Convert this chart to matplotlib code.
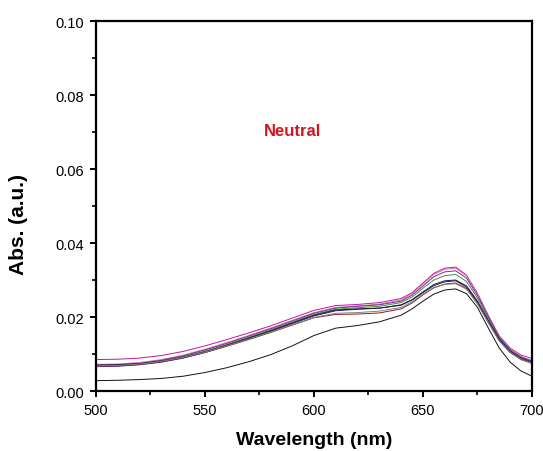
import matplotlib.pyplot as plt
from matplotlib.ticker import MultipleLocator

plt.rcParams['font.family'] = ['Liberation Sans', 'DejaVu Sans']

wl = [500, 510, 520, 530, 540, 550, 560, 570, 580, 590, 600, 610, 620, 630, 640,
      645, 650, 655, 660, 665, 670, 675, 680, 685, 690, 695, 700]

abs_a = [.0085, .0086, .0089, .0096, .0107, .0122, .0139, .0157, .0176, .0197, .0218, .0231, .0234, .0239, .0250,
         .0266, .0292, .0318, .0332, .0335, .0313, .0264, .0204, .0149, .0116, .0097, .0088]
abs_b = [.0072, .0073, .0077, .0085, .0097, .0113, .0131, .0150, .0170, .0191, .0212, .0226, .0230, .0235, .0246,
         .0263, .0289, .0315, .0329, .0332, .0311, .0262, .0202, .0147, .0112, .0093, .0082]
abs_c = [.0070, .0071, .0075, .0083, .0095, .0111, .0129, .0148, .0168, .0189, .0210, .0224, .0229, .0233, .0243,
         .0259, .0284, .0309, .0322, .0325, .0305, .0258, .0200, .0145, .0111, .0092, .0081]
abs_d = [.0068, .0069, .0073, .0081, .0093, .0108, .0126, .0145, .0165, .0186, .0207, .0221, .0225, .0229, .0239,
         .0254, .0278, .0300, .0312, .0315, .0296, .0251, .0196, .0143, .0110, .0091, .0080]
abs_e = [.0066, .0067, .0071, .0078, .0089, .0104, .0122, .0141, .0161, .0182, .0203, .0217, .0221, .0224, .0233,
         .0247, .0268, .0288, .0298, .0300, .0284, .0243, .0191, .0141, .0108, .0089, .0079]
abs_f = [.0070, .0071, .0074, .0081, .0092, .0106, .0124, .0143, .0163, .0184, .0205, .0219, .0222, .0224, .0232,
         .0246, .0266, .0285, .0295, .0298, .0281, .0240, .0187, .0136, .0104, .0085, .0075]
abs_g = [.0067, .0068, .0072, .0079, .0090, .0104, .0121, .0139, .0158, .0178, .0198, .0207, .0208, .0211, .0222,
         .0238, .0260, .0279, .0289, .0292, .0277, .0238, .0186, .0137, .0106, .0087, .0077]
abs_h = [.0068, .0069, .0073, .0080, .0091, .0105, .0122, .0140, .0159, .0179, .0199, .0210, .0212, .0216, .0226,
         .0241, .0262, .0280, .0288, .0290, .0275, .0235, .0184, .0135, .0104, .0085, .0075]
abs_i = [.0028, .0029, .0031, .0034, .0040, .0050, .0063, .0079, .0098, .0122, .0150, .0170, .0177, .0187, .0205,
         .0222, .0243, .0262, .0273, .0276, .0263, .0226, .0170, .0116, .0078, .0054, .0040]

series = [(abs_a, '#c0189a'), (abs_b, '#e0709a'), (abs_c, '#6a2bb0'), (abs_d, '#4a8a3a'),
          (abs_e, '#1a1a8c'), (abs_f, '#202020'), (abs_g, '#8b2020'), (abs_h, '#808080'),
          (abs_i, '#111111')]

fig = plt.figure(figsize=(5.43, 4.52), dpi=100)
ax = fig.add_axes([0.1768, 0.1327, 0.8029, 0.8186])

for vals, col in series:
    ax.plot(wl, vals, '-', color=col, lw=0.7)

ax.text(590, 0.0705, 'Neutral', color='#d2141e', fontsize=12, fontweight='bold',
        ha='center', va='center')

ax.set_xlim(500, 700)
ax.set_ylim(0, 0.10)
ax.xaxis.set_major_locator(MultipleLocator(50))
ax.xaxis.set_minor_locator(MultipleLocator(25))
ax.yaxis.set_major_locator(MultipleLocator(0.02))
ax.yaxis.set_minor_locator(MultipleLocator(0.01))
ax.yaxis.set_major_formatter(plt.FormatStrFormatter('%.2f'))
for s in ax.spines.values():
    s.set_linewidth(1.6)
ax.tick_params(which='major', direction='out', length=4.5, width=1.4, labelsize=10.5, pad=4)
ax.tick_params(which='minor', direction='out', length=3, width=1.2)
ax.set_xlabel('Wavelength (nm)', fontsize=14, fontweight='bold', va='top')
ax.set_ylabel('Abs. (a.u.)', fontsize=15, fontweight='bold')
ax.xaxis.set_label_coords(0.5, -0.108)
ax.yaxis.set_label_coords(-0.155, 0.454)

plt.savefig('out.png', dpi=100)
